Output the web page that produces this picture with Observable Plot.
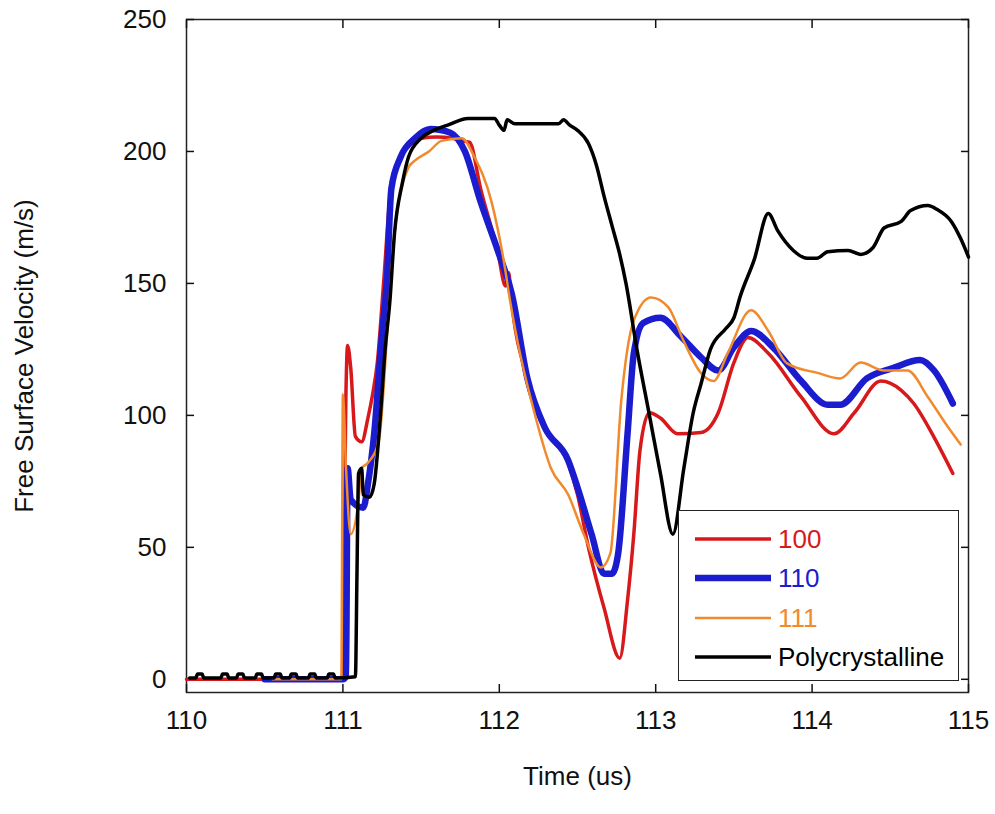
<!DOCTYPE html>
<html>
<head>
<meta charset="utf-8">
<script src="https://cdn.jsdelivr.net/npm/d3@7"></script>
<script src="https://cdn.jsdelivr.net/npm/@observablehq/plot@0.6"></script>
<style>
  html, body { margin: 0; padding: 0; background: #fff; }
  #wrap { position: relative; width: 995px; height: 814px; font-family: "Liberation Sans", Arial, sans-serif; }
  #legend { position: absolute; left: 678px; top: 510px; width: 281px; height: 171px; border: 1.5px solid #222; background: #fff; box-sizing: border-box; }
  .row { position: absolute; left: 16px; height: 30px; display: flex; align-items: center; font-size: 26px; }
  .row svg { margin-right: 5px; }
</style>
</head>
<body>
<div id="wrap"></div>
<script>
// Time (us) / free surface velocity (m/s) pairs
const series100 = [[110.0,0],[110.98,0],[111.0,2],[111.02,110],[111.03,126.5],[111.05,118],[111.08,92],[111.12,90],[111.16,99],[111.19,108],[111.22,120],[111.26,150],[111.31,188],[111.37,198],[111.44,203],[111.5,205],[111.6,205.5],[111.7,205],[111.76,204],[111.81,203.5],[111.88,186],[111.99,162],[112.04,149],[112.06,154],[112.075,145],[112.18,114],[112.29,95],[112.44,82],[112.5,70],[112.57,50],[112.67,27],[112.77,8],[112.82,30],[112.86,55],[112.9,87],[112.96,101],[113.03,99],[113.14,93],[113.29,93.5],[113.4,101],[113.5,120],[113.59,129.5],[113.72,123.5],[113.93,107],[114.14,93],[114.27,101],[114.44,113],[114.57,109.5],[114.65,104.5],[114.78,91.7],[114.9,78]];
const series110 = [[110.5,0],[111.0,0],[111.02,1],[111.03,80],[111.05,68],[111.13,65],[111.16,74],[111.2,93],[111.25,131],[111.28,150],[111.31,186],[111.37,198],[111.46,205],[111.56,208.5],[111.69,207],[111.78,200],[111.88,181],[111.99,162.5],[112.08,146],[112.18,114],[112.29,95.5],[112.44,83],[112.5,72.7],[112.59,55],[112.67,40],[112.72,40],[112.76,47.7],[112.82,93],[112.86,123.5],[112.92,135],[113.03,137],[113.16,130],[113.29,122],[113.4,117],[113.5,125.8],[113.61,132],[113.75,125.8],[113.93,113],[114.1,104],[114.18,104],[114.35,114],[114.52,118],[114.69,121],[114.78,117],[114.9,104.5]];
const series111 = [[110.55,0],[110.99,0],[111.0,108],[111.02,80],[111.05,55],[111.1,68],[111.12,80],[111.16,82],[111.23,90.5],[111.29,137],[111.33,169],[111.42,194],[111.46,196.5],[111.55,200],[111.63,204],[111.76,205],[111.84,198],[111.95,181],[112.03,158],[112.07,143],[112.12,127],[112.22,102],[112.33,80],[112.44,70],[112.54,55],[112.65,42.4],[112.71,47.7],[112.78,105.7],[112.86,136],[112.97,144.7],[113.08,141],[113.18,128],[113.29,116],[113.37,113],[113.46,123.5],[113.61,139.8],[113.72,132],[113.84,119.7],[114.04,116],[114.18,114],[114.31,120],[114.46,117],[114.61,117],[114.74,107],[114.87,95.5],[114.95,89]];
const seriesPoly = [[110.02,0.5],[110.06,0.5],[110.07,2],[110.1,2],[110.11,0.5],[110.22,0.5],[110.23,2],[110.26,2],[110.27,0.5],[110.32,0.5],[110.33,2],[110.36,2],[110.37,0.5],[110.44,0.5],[110.45,2],[110.48,2],[110.49,0.5],[110.56,0.5],[110.57,2],[110.6,2],[110.61,0.5],[110.66,0.5],[110.67,2],[110.7,2],[110.71,0.5],[110.78,0.5],[110.79,2],[110.82,2],[110.83,0.5],[110.9,0.5],[110.91,2],[110.94,2],[110.95,0.5],[111.08,1],[111.09,40],[111.1,78],[111.12,80],[111.13,70],[111.17,69],[111.2,74],[111.24,100],[111.27,125],[111.3,143],[111.33,169],[111.38,188],[111.42,198],[111.5,205],[111.58,208],[111.67,210],[111.8,212.5],[111.97,212.5],[112.0,210],[112.03,208],[112.05,212],[112.1,210.5],[112.38,210.5],[112.41,212],[112.45,210],[112.5,208],[112.57,203],[112.62,195],[112.67,183],[112.72,172],[112.77,161],[112.81,150],[112.88,125],[112.96,100],[113.03,78],[113.11,55],[113.18,80],[113.24,101],[113.29,112],[113.35,125],[113.45,133],[113.5,137],[113.54,145],[113.63,159],[113.72,176.5],[113.78,170],[113.88,162.5],[113.97,159.5],[114.03,159.5],[114.1,162],[114.23,162.5],[114.31,161],[114.39,163.6],[114.46,171],[114.57,173.5],[114.63,177.6],[114.74,179.5],[114.8,178],[114.89,173.5],[114.95,167],[115.0,160]];

const xTicks = [110, 111, 112, 113, 114, 115];
const yTicks = [0, 50, 100, 150, 200, 250];
const seriesNames = ["100", "110", "111", "Polycrystalline"];
const seriesColors = ["#d7191c", "#1c1ccf", "#f08a2c", "#000000"];
const seriesWidths = [3.5, 6.5, 2.5, 3.5];

const allSeries = [series100, series110, series111, seriesPoly].map(s => s.map(([t, v]) => ({t, v})));

const plot = Plot.plot({
  width: 995,
  height: 814,
  marginLeft: 186,
  marginRight: 27,
  marginTop: 19,
  marginBottom: 122,
  x: {domain: [110, 115]},
  y: {domain: [-5, 250]},
  style: {fontFamily: "'Liberation Sans', Arial, sans-serif", fontSize: "26px", color: "#111", background: "white"},
  marks: [
    Plot.frame({stroke: "#222", strokeWidth: 1.5}),
    Plot.axisX({ticks: xTicks, tickSize: -8, tickPadding: 26, strokeWidth: 1.5, tickFormat: d3.format("d"), label: "Time (us)", labelAnchor: "center", labelOffset: 92, labelArrow: "none"}),
    Plot.axisX({anchor: "top", ticks: xTicks, tickSize: -8, strokeWidth: 1.5, tickFormat: () => "", label: null}),
    Plot.axisY({ticks: yTicks, tickSize: -8, tickPadding: 28, strokeWidth: 1.5, tickFormat: d3.format("d"), label: "Free Surface Velocity (m/s)", labelAnchor: "center", labelOffset: 172, labelArrow: "none"}),
    Plot.axisY({anchor: "right", ticks: yTicks, tickSize: -8, strokeWidth: 1.5, tickFormat: () => "", label: null}),
    ...allSeries.map((data, i) => Plot.line(data, {x: "t", y: "v", stroke: seriesColors[i], strokeWidth: seriesWidths[i], strokeLinejoin: "round", curve: "monotone-x"}))
  ]
});

const wrap = document.getElementById("wrap");
wrap.appendChild(plot);

const legend = document.createElement("div");
legend.id = "legend";
const rowTops = [13, 52, 92, 131];
seriesNames.forEach((name, i) => {
  const row = document.createElement("div");
  row.className = "row";
  row.style.top = rowTops[i] + "px";
  row.style.color = seriesColors[i];
  row.innerHTML = `<svg width="78" height="10"><line x1="0" x2="76" y1="5" y2="5" stroke="${seriesColors[i]}" stroke-width="${seriesWidths[i]}"/></svg><span>${name}</span>`;
  legend.appendChild(row);
});
wrap.appendChild(legend);
</script>
</body>
</html>
